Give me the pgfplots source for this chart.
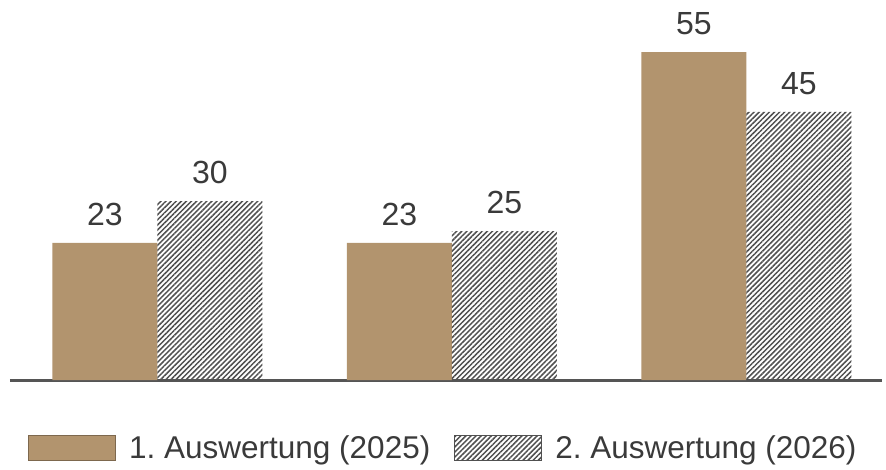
\documentclass[border=0pt]{standalone}
\usepackage{fontspec}
\setmainfont{Liberation Sans}
\usepackage{pgfplots}
\pgfplotsset{compat=1.18}
\usetikzlibrary{patterns.meta}
\frenchspacing

\definecolor{tan}{RGB}{178,148,110}
\definecolor{tanedge}{RGB}{125,104,78}
\definecolor{hatch}{RGB}{80,80,80}
\definecolor{txt}{RGB}{58,58,58}
\definecolor{baseline}{RGB}{85,85,85}

\begin{document}
\begin{tikzpicture}[x=1pt,y=1pt]
\useasboundingbox (0,0) rectangle (886,469);
\begin{axis}[
  at={(10pt,89pt)}, anchor=south west,
  scale only axis, width=872pt, height=357.6pt,
  xmin=-0.5, xmax=2.46, ymin=0, ymax=60,
  hide y axis,
  axis x line*=bottom,
  x axis line style={-, line width=3pt, color=baseline},
  xtick=\empty, ytick=\empty,
  clip=false,
  /pgf/number format/assume math mode=true,
  ybar, bar width=105pt,
  nodes near coords={\pgfmathprintnumber{\pgfplotspointmeta}},
  nodes near coords style={anchor=south, inner sep=0pt, yshift=17pt,
    font=\fontsize{32}{38}\selectfont, text=txt},
  legend style={at={(axis description cs:0.0206,-0.19)}, anchor=west,
    draw=none, fill=none, inner sep=0pt, legend columns=2,
    font=\fontsize{31.5}{37}\selectfont, text=txt,
    nodes={inner sep=0pt},
    /tikz/every odd column/.append style={column sep=13pt},
    /tikz/every even column/.append style={column sep=24pt}},
  legend cell align=left,
]
\addplot[fill=tan, draw=none, bar shift=-52.5pt,
  legend image code/.code={\draw[fill=tan, draw=tanedge, line width=1pt]
    (0pt,-12.5pt) rectangle (87pt,12.5pt);}]
  coordinates {(0,23) (1,23) (2,55)};
\addlegendentry{1. Auswertung (2025)}
\addplot[draw=none, bar shift=52.5pt,
  pattern={Lines[angle=45, distance=3.6pt, line width=1.5pt]}, pattern color=hatch,
  legend image code/.code={\draw[pattern={Lines[angle=45, distance=3.6pt, line width=1.5pt]},
    pattern color=hatch, draw=hatch, line width=1pt]
    (0pt,-12.5pt) rectangle (87pt,12.5pt);}]
  coordinates {(0,30) (1,25) (2,45)};
\addlegendentry{2. Auswertung (2026)}
\end{axis}
\end{tikzpicture}
\end{document}
